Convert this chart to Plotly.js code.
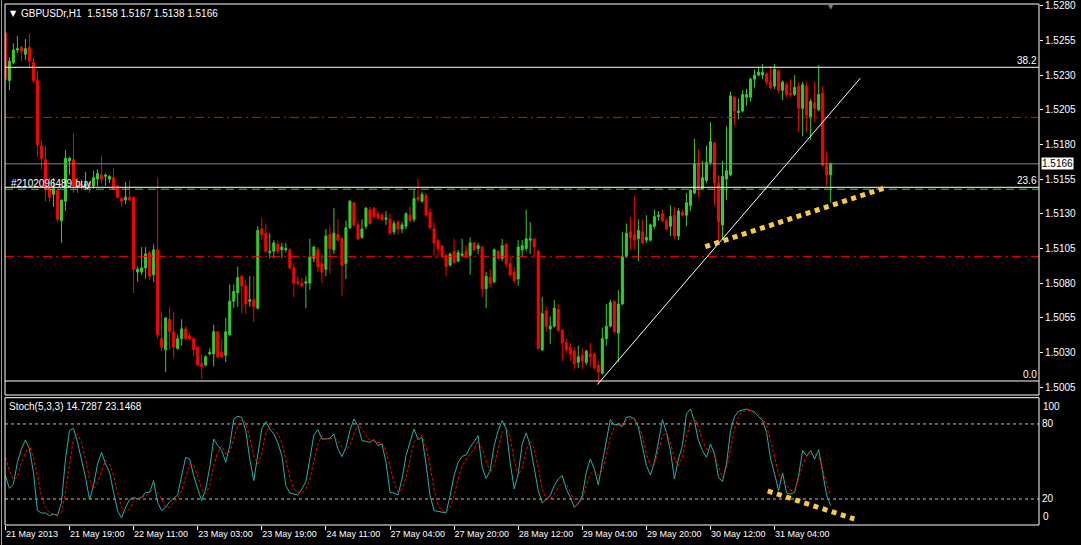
<!DOCTYPE html>
<html><head><meta charset="utf-8">
<script src="https://cdn.plot.ly/plotly-3.0.1.min.js"></script>
<style>html,body{margin:0;padding:0;background:#000;overflow:hidden}#chart{width:1081px;height:545px}</style>
</head><body><div id="chart"></div>
<script>
// ---------------- data ----------------
const symbolTitle = 'GBPUSDr,H1  1.5158 1.5167 1.5138 1.5166';
const stochTitle = 'Stoch(5,3,3) 14.7287 23.1468';

const open = [1.5260,1.5226,1.5239,1.5248,1.5250,1.5245,1.5250,1.5239,1.5226,1.5179,
1.5169,1.5150,1.5144,1.5147,1.5125,1.5139,1.5168,1.5169,1.5152,1.5151,
1.5150,1.5152,1.5150,1.5155,1.5158,1.5157,1.5155,1.5156,1.5150,1.5141,
1.5140,1.5142,1.5142,1.5088,1.5088,1.5091,1.5102,1.5086,1.5104,1.5040,
1.5032,1.5054,1.5045,1.5033,1.5040,1.5047,1.5042,1.5040,1.5034,1.5022,
1.5021,1.5029,1.5029,1.5045,1.5030,1.5028,1.5043,1.5067,1.5073,1.5085,
1.5078,1.5067,1.5068,1.5062,1.5119,1.5116,1.5102,1.5103,1.5108,1.5104,
1.5104,1.5104,1.5091,1.5081,1.5080,1.5080,1.5080,1.5098,1.5104,1.5094,
1.5090,1.5115,1.5104,1.5115,1.5112,1.5094,1.5120,1.5138,1.5122,1.5113,
1.5121,1.5133,1.5134,1.5130,1.5129,1.5126,1.5126,1.5117,1.5124,1.5119,
1.5121,1.5129,1.5126,1.5142,1.5139,1.5143,1.5131,1.5119,1.5111,1.5107,
1.5100,1.5093,1.5103,1.5096,1.5100,1.5103,1.5100,1.5109,1.5105,1.5106,
1.5076,1.5084,1.5081,1.5103,1.5098,1.5108,1.5094,1.5088,1.5083,1.5104,
1.5105,1.5111,1.5112,1.5103,1.5032,1.5060,1.5047,1.5049,1.5061,1.5046,
1.5037,1.5034,1.5031,1.5023,1.5028,1.5023,1.5029,1.5029,1.5021,1.5015,
1.5040,1.5049,1.5067,1.5044,1.5065,1.5099,1.5117,1.5115,1.5112,1.5117,
1.5111,1.5111,1.5121,1.5128,1.5130,1.5125,1.5121,1.5129,1.5114,1.5131,
1.5129,1.5136,1.5145,1.5166,1.5148,1.5154,1.5167,1.5181,1.5152,1.5122,
1.5155,1.5158,1.5214,1.5203,1.5204,1.5214,1.5214,1.5227,1.5230,1.5230,
1.5231,1.5225,1.5222,1.5233,1.5219,1.5223,1.5217,1.5216,1.5222,1.5206,
1.5222,1.5199,1.5210,1.5205,1.5217,1.5165,1.5158];

const high = [1.5261,1.5243,1.5253,1.5258,1.5251,1.5256,1.5260,1.5243,1.5233,1.5183,
1.5179,1.5156,1.5156,1.5148,1.5140,1.5176,1.5171,1.5188,1.5156,1.5155,
1.5160,1.5153,1.5161,1.5162,1.5172,1.5159,1.5158,1.5163,1.5151,1.5142,
1.5153,1.5154,1.5142,1.5092,1.5106,1.5106,1.5103,1.5108,1.5156,1.5059,
1.5055,1.5063,1.5059,1.5043,1.5054,1.5049,1.5044,1.5041,1.5034,1.5029,
1.5028,1.5033,1.5050,1.5045,1.5040,1.5055,1.5079,1.5079,1.5092,1.5086,
1.5082,1.5085,1.5085,1.5121,1.5127,1.5123,1.5116,1.5111,1.5111,1.5109,
1.5109,1.5105,1.5094,1.5085,1.5084,1.5085,1.5112,1.5107,1.5106,1.5101,
1.5119,1.5121,1.5134,1.5126,1.5113,1.5125,1.5140,1.5138,1.5125,1.5126,
1.5135,1.5135,1.5135,1.5132,1.5131,1.5132,1.5130,1.5125,1.5125,1.5124,
1.5131,1.5135,1.5148,1.5155,1.5146,1.5145,1.5134,1.5124,1.5112,1.5107,
1.5101,1.5102,1.5112,1.5104,1.5112,1.5107,1.5113,1.5109,1.5109,1.5107,
1.5088,1.5090,1.5105,1.5104,1.5112,1.5109,1.5100,1.5092,1.5111,1.5111,
1.5133,1.5124,1.5112,1.5104,1.5070,1.5063,1.5056,1.5068,1.5065,1.5047,
1.5040,1.5037,1.5034,1.5035,1.5033,1.5032,1.5037,1.5030,1.5024,1.5048,
1.5065,1.5068,1.5067,1.5075,1.5117,1.5123,1.5128,1.5143,1.5126,1.5126,
1.5129,1.5123,1.5133,1.5132,1.5133,1.5127,1.5136,1.5135,1.5134,1.5133,
1.5145,1.5148,1.5184,1.5176,1.5168,1.5179,1.5196,1.5182,1.5158,1.5168,
1.5193,1.5218,1.5215,1.5213,1.5219,1.5220,1.5228,1.5234,1.5236,1.5238,
1.5232,1.5236,1.5238,1.5234,1.5226,1.5225,1.5227,1.5230,1.5225,1.5225,
1.5225,1.5213,1.5225,1.5237,1.5222,1.5175,1.5167];

const low = [1.5226,1.5219,1.5238,1.5246,1.5240,1.5241,1.5235,1.5224,1.5171,1.5162,
1.5139,1.5139,1.5135,1.5124,1.5109,1.5132,1.5158,1.5145,1.5145,1.5147,
1.5147,1.5145,1.5148,1.5150,1.5152,1.5150,1.5152,1.5147,1.5141,1.5135,
1.5137,1.5139,1.5073,1.5081,1.5086,1.5083,1.5082,1.5081,1.5040,1.5031,
1.5016,1.5032,1.5026,1.5032,1.5035,1.5039,1.5039,1.5027,1.5020,1.5011,
1.5020,1.5028,1.5020,1.5026,1.5026,1.5023,1.5042,1.5062,1.5063,1.5058,
1.5058,1.5063,1.5052,1.5061,1.5111,1.5102,1.5098,1.5098,1.5101,1.5098,
1.5102,1.5090,1.5070,1.5078,1.5077,1.5062,1.5075,1.5095,1.5088,1.5080,
1.5085,1.5087,1.5101,1.5110,1.5071,1.5083,1.5119,1.5121,1.5111,1.5112,
1.5119,1.5122,1.5126,1.5126,1.5125,1.5122,1.5115,1.5115,1.5115,1.5116,
1.5119,1.5124,1.5124,1.5139,1.5138,1.5128,1.5119,1.5100,1.5100,1.5098,
1.5085,1.5092,1.5094,1.5095,1.5099,1.5098,1.5086,1.5103,1.5101,1.5070,
1.5062,1.5077,1.5080,1.5097,1.5096,1.5091,1.5085,1.5080,1.5078,1.5099,
1.5103,1.5101,1.5099,1.5032,1.5031,1.5045,1.5036,1.5048,1.5045,1.5024,
1.5029,1.5024,1.5018,1.5019,1.5018,1.5021,1.5020,1.5018,1.5007,1.5014,
1.5035,1.5048,1.5044,1.5023,1.5064,1.5098,1.5104,1.5104,1.5096,1.5108,
1.5109,1.5110,1.5119,1.5125,1.5124,1.5118,1.5114,1.5112,1.5111,1.5128,
1.5121,1.5132,1.5144,1.5142,1.5147,1.5152,1.5165,1.5136,1.5109,1.5111,
1.5140,1.5157,1.5194,1.5198,1.5203,1.5208,1.5211,1.5221,1.5229,1.5227,
1.5223,1.5220,1.5220,1.5217,1.5212,1.5214,1.5214,1.5215,1.5189,1.5186,
1.5189,1.5183,1.5196,1.5204,1.5164,1.5150,1.5138];

const close = [1.5227,1.5240,1.5248,1.5249,1.5247,1.5249,1.5240,1.5226,1.5180,1.5170,
1.5148,1.5142,1.5148,1.5126,1.5140,1.5170,1.5170,1.5150,1.5150,1.5150,
1.5151,1.5150,1.5156,1.5159,1.5155,1.5158,1.5157,1.5148,1.5142,1.5139,
1.5142,1.5140,1.5090,1.5090,1.5091,1.5101,1.5085,1.5104,1.5043,1.5034,
1.5055,1.5045,1.5034,1.5040,1.5047,1.5040,1.5040,1.5032,1.5021,1.5020,
1.5027,1.5030,1.5045,1.5027,1.5027,1.5045,1.5067,1.5074,1.5084,1.5078,
1.5065,1.5068,1.5063,1.5118,1.5115,1.5103,1.5103,1.5109,1.5103,1.5106,
1.5105,1.5091,1.5080,1.5080,1.5078,1.5081,1.5099,1.5106,1.5092,1.5088,
1.5114,1.5105,1.5116,1.5111,1.5093,1.5120,1.5139,1.5122,1.5112,1.5119,
1.5134,1.5123,1.5128,1.5127,1.5126,1.5127,1.5116,1.5123,1.5119,1.5122,
1.5130,1.5125,1.5141,1.5140,1.5144,1.5129,1.5120,1.5109,1.5105,1.5099,
1.5092,1.5101,1.5095,1.5102,1.5101,1.5099,1.5109,1.5104,1.5107,1.5076,
1.5085,1.5080,1.5104,1.5098,1.5107,1.5094,1.5086,1.5082,1.5106,1.5107,
1.5112,1.5112,1.5106,1.5033,1.5058,1.5049,1.5049,1.5062,1.5046,1.5037,
1.5032,1.5029,1.5022,1.5027,1.5024,1.5031,1.5027,1.5019,1.5016,1.5040,
1.5049,1.5066,1.5045,1.5065,1.5099,1.5116,1.5113,1.5111,1.5118,1.5109,
1.5113,1.5122,1.5128,1.5129,1.5125,1.5119,1.5128,1.5114,1.5132,1.5129,
1.5138,1.5147,1.5166,1.5148,1.5156,1.5167,1.5182,1.5152,1.5124,1.5157,
1.5161,1.5215,1.5204,1.5204,1.5216,1.5216,1.5227,1.5230,1.5232,1.5232,
1.5225,1.5221,1.5234,1.5219,1.5225,1.5216,1.5216,1.5221,1.5206,1.5223,
1.5201,1.5211,1.5206,1.5216,1.5165,1.5158,1.5166];

const stochK = [38.7,28.5,32,49.3,60,67.2,60,41.3,10.7,8.8,
8.8,6.7,8,6.7,17.3,52,74.7,76.5,65.3,50.7,
37.3,19.5,30.7,48,57.3,48,41.3,25.3,10.7,4.8,
13.3,19.5,21.3,20,21.3,25.3,25.3,34.7,17.3,10.7,
13.3,17.9,20.5,23.2,38.7,53.3,52,38.7,28,18.7,
28,45.3,68,62.7,58.7,49.3,62.7,84,86.1,85.3,
74.7,52,34.7,57.3,76,81.9,76,72,65,54.7,
30.7,24.8,24,23.2,28,33.9,52,71.2,75.5,68,
68,68.5,72,60,53.9,61.3,74.7,84,78.7,66.7,
66.1,65.3,67.5,62.7,64,49.3,25.3,24.8,23.2,36,
54.7,65.3,76,67.5,69.3,48,22.7,10.7,9.9,9.3,
8.8,22.7,38.7,49.3,54.1,55.2,61.3,65.9,70.7,45.3,
36.5,42.7,62.7,74.7,82.7,76,49.3,28,40,64,
72.8,62.7,44,26.7,16.8,20,22.7,30.7,36,38.7,
28,21.3,13.3,16.2,22.7,41.3,52,44,31.2,49.3,
68,83.5,79.2,79.7,77.9,85.3,85.9,84,77.3,62.7,
46.7,39.2,49.3,65.3,83.5,73.3,58.7,36,52,62.7,
88,92,81.9,66.7,58.7,53.3,64,56,37.3,33.9,
48,74.7,86,90.1,91,92,90.7,89.3,86,82.7,
73.3,52,40,26.7,40.8,24.8,24,25.3,38.7,58.7,
54.5,58.7,52,59.5,41.3,22.7,14.7287];

const stochD = [53.3,42.7,35.5,37.3,49.3,57.3,62.7,53.3,38.7,22.7,
13.3,8.8,8,7.5,9.3,25.3,48,68,72,65.3,
52,36,28,32.8,42.7,50.7,48,38.7,25.3,13.3,
9.3,12,17.9,20.5,21.3,22.7,24.8,28.5,25.3,20,
13.3,13.3,17.3,20,26.7,37.3,48,46.7,38.7,28,
24,30.7,46.7,57.3,62.7,56,57.3,68,78.7,84,
80.8,69.3,54.7,48,56,72.8,78.7,76,72,65.3,
50.7,37.3,28,25.3,24.8,28,36,50.7,64,70.7,
68.5,68,69.3,66.7,61.3,58.7,62.7,72,80,76,
70.7,66.7,66.7,65.3,64.8,58.7,46.7,33.3,25.3,28,
37.3,52,65.3,69.3,70.7,61.3,46.7,28,14.7,10.7,
9.3,13.3,22.7,36,46.7,52,56,60,66.7,60,
50.7,40.8,46.7,60,73.3,77.3,69.3,50.7,38.7,45.3,
58.7,66.7,60,45.3,28,20,20,24,29.3,32.8,
32,25.3,18.7,16,20,30.7,40,42.7,38.7,42.7,
54.7,69.3,77.3,79.2,80,82.7,84,84.5,80,70.7,
56,46.7,48,58.7,70.7,73.3,65.3,52,46.7,53.3,
69.3,81.3,85.3,77.3,66.7,60,58.7,54.7,45.3,37.3,
44,58.7,76,86.1,89.9,90.7,90.7,89.9,88,84,
78.7,66.7,52,40,33.3,30.7,26.7,27.2,36,47.2,
54.7,56,56,53.3,44,32,23.1468];

const timeTickBars = [0,16,32,48,64,80,96,112,128,144,160,176,192];
const timeTickLabels = ['21 May 2013','21 May 19:00','22 May 11:00','23 May 03:00','23 May 19:00',
  '24 May 11:00','27 May 04:00','27 May 20:00','28 May 12:00','29 May 04:00','29 May 20:00',
  '30 May 12:00','31 May 04:00'];
const priceTicks = [1.5005,1.5030,1.5055,1.5080,1.5105,1.5130,1.5155,1.5180,1.5205,1.5230,1.5255,1.5280];

const fibLabels = ['0.0','23.6','38.2'];
const fibPrices = [1.50095,1.51491,1.52356];
const bidPrice = 1.5166;
const orderPrice = 1.51477;
const orderLabel = '#2102096489 buy';
const stopLevels = [1.51995,1.50993];
const stochLevels = [20,80];
const trendX = [147.8,213.4], trendY = [1.5007,1.52277];
const markX = [174.7,219.2], markY = [1.51063,1.51484];
const stochMarkX = [190.3,211.9], stochMarkY = [26.4,4];

// ---------------- layout helpers ----------------
const W = 1081, H = 545, ML = 5, MR = 42, MT = 4, MB = 20;
const PW = W - ML - MR, PH = H - MT - MB;
const px = x => (x - ML) / PW;
const py = y => (H - MB - y) / PH;
const mainDomain = [py(395), 1];
const stochDomain = [0, py(397.7)];
const FONT = 'Liberation Sans, Arial, sans-serif';
const barIndex = open.map((_, i) => i);

const traces = [
  {type:'candlestick', x:barIndex, open:open, high:high, low:low, close:close,
   xaxis:'x', yaxis:'y', hoverinfo:'skip', whiskerwidth:0,
   increasing:{line:{color:'#32cd32', width:1}, fillcolor:'#32cd32'},
   decreasing:{line:{color:'#ff0000', width:1}, fillcolor:'#ff0000'}},
  {type:'scatter', mode:'lines', x:barIndex, y:stochK, xaxis:'x', yaxis:'y2',
   line:{color:'#20b2aa', width:1}, hoverinfo:'skip'},
  {type:'scatter', mode:'lines', x:barIndex, y:stochD, xaxis:'x', yaxis:'y2',
   line:{color:'#ff0000', width:1, dash:'3px,2px'}, hoverinfo:'skip'}
];

const shapes = [];
const hline = (y, color, dash, yref) => shapes.push({type:'line', xref:'paper', x0:0, x1:1,
  yref:yref||'y', y0:y, y1:y, line:{color:color, width:1, dash:dash||'solid'}});
fibPrices.forEach(p => hline(p, '#ffffff'));
stopLevels.forEach(p => hline(p, '#ff0000', '9px,4px,2px,4px'));
hline(orderPrice, '#32cd32', '8px,5px');
hline(bidPrice, '#778899');
stochLevels.forEach(v => shapes.push({type:'line', xref:'paper', x0:0, x1:1, yref:'y2', y0:v, y1:v,
  layer:'below', line:{color:'#c0c0c0', width:1, dash:'3px,3px'}}));
shapes.push({type:'line', xref:'x', yref:'y', x0:trendX[0], x1:trendX[1], y0:trendY[0], y1:trendY[1],
  line:{color:'#ffffff', width:1}});
shapes.push({type:'line', xref:'x', yref:'y', x0:markX[0], x1:markX[1], y0:markY[0], y1:markY[1],
  line:{color:'#f7c948', width:5, dash:'5px,4.6px'}});
shapes.push({type:'line', xref:'x', yref:'y2', x0:stochMarkX[0], x1:stochMarkX[1], y0:stochMarkY[0], y1:stochMarkY[1],
  line:{color:'#f7c948', width:5, dash:'5px,4.6px'}});
// panel frames
shapes.push({type:'rect', xref:'paper', yref:'paper', x0:0, x1:1, y0:mainDomain[0], y1:1,
  line:{color:'#ffffff', width:1}, fillcolor:'rgba(0,0,0,0)'});
shapes.push({type:'rect', xref:'paper', yref:'paper', x0:0, x1:1, y0:0, y1:stochDomain[1],
  line:{color:'#ffffff', width:1}, fillcolor:'rgba(0,0,0,0)'});
// window edge
shapes.push({type:'line', xref:'paper', yref:'paper', x0:px(1.5), x1:px(1.5), y0:py(545), y1:py(0),
  line:{color:'#a0a0a0', width:1}});

const white = (size) => ({family:FONT, size:size, color:'#ffffff'});
const annotations = [
  {xref:'paper', yref:'paper', x:px(8), y:py(13), xanchor:'left', yanchor:'middle', text:'▼',
   showarrow:false, font:{family:'DejaVu Sans', size:8, color:'#ffffff'}},
  {xref:'paper', yref:'paper', x:px(19), y:py(13), xanchor:'left', yanchor:'middle', text:symbolTitle,
   showarrow:false, font:white(10)},
  {xref:'paper', yref:'paper', x:px(7), y:py(407), xanchor:'left', yanchor:'middle', text:stochTitle,
   showarrow:false, font:white(10)},
  {xref:'paper', yref:'y', x:px(9), y:orderPrice, xanchor:'left', yanchor:'middle', yshift:6,
   text:orderLabel, showarrow:false, font:white(10)},
  {xref:'paper', yref:'paper', x:px(831), y:py(7), xanchor:'center', yanchor:'middle', text:'▼',
   showarrow:false, font:{family:'DejaVu Sans', size:7, color:'#808080'}},
  {xref:'paper', yref:'y', x:1, xshift:2, y:bidPrice, xanchor:'left', yanchor:'middle',
   text:bidPrice.toFixed(4), showarrow:false, bgcolor:'#ffffff', borderpad:0,
   font:{family:FONT, size:10, color:'#000000'}},
  {xref:'paper', yref:'y2', x:1, xshift:2, y:100, xanchor:'left', yanchor:'top', text:'100', showarrow:false, font:white(10)},
  {xref:'paper', yref:'y2', x:1, xshift:1, y:80, xanchor:'left', yanchor:'middle', text:'80', showarrow:false, font:white(10)},
  {xref:'paper', yref:'y2', x:1, xshift:1, y:20, xanchor:'left', yanchor:'middle', text:'20', showarrow:false, font:white(10)},
  {xref:'paper', yref:'y2', x:1, xshift:2, y:0, xanchor:'left', yanchor:'bottom', text:'0', showarrow:false, font:white(10)}
];
fibPrices.forEach((p, i) => annotations.push({xref:'paper', yref:'y', x:px(1038), y:p,
  xanchor:'right', yanchor:'bottom', text:fibLabels[i], showarrow:false, font:white(10), borderpad:0}));

const layout = {
  width:W, height:H, paper_bgcolor:'#000000', plot_bgcolor:'#000000',
  margin:{l:ML, r:MR, t:MT, b:MB, pad:0}, showlegend:false, hovermode:false,
  boxgap:0.5, boxgroupgap:0,
  xaxis:{range:[-0.1,258], anchor:'y2', showgrid:false, zeroline:false, showline:false,
    tickmode:'array', tickvals:timeTickBars, ticktext:timeTickLabels, ticks:'outside', ticklen:4,
    tickcolor:'#ffffff', tickangle:0, tickfont:{family:FONT, size:9, color:'#ffffff'},
    ticklabelposition:'outside right', rangeslider:{visible:false}, fixedrange:true},
  yaxis:{domain:mainDomain, side:'right', range:[1.49994,1.52812], showgrid:false, zeroline:false,
    tickmode:'array', tickvals:priceTicks, tickformat:'.4f', ticks:'outside', ticklen:3,
    tickcolor:'#ffffff', tickfont:{family:FONT, size:10, color:'#ffffff'}, fixedrange:true},
  yaxis2:{domain:stochDomain, side:'right', range:[-0.8,101.0], showgrid:false, zeroline:false,
    showticklabels:false, ticks:'', fixedrange:true},
  shapes:shapes, annotations:annotations
};

Plotly.newPlot('chart', traces, layout, {staticPlot:true, displayModeBar:false});
</script></body></html>
